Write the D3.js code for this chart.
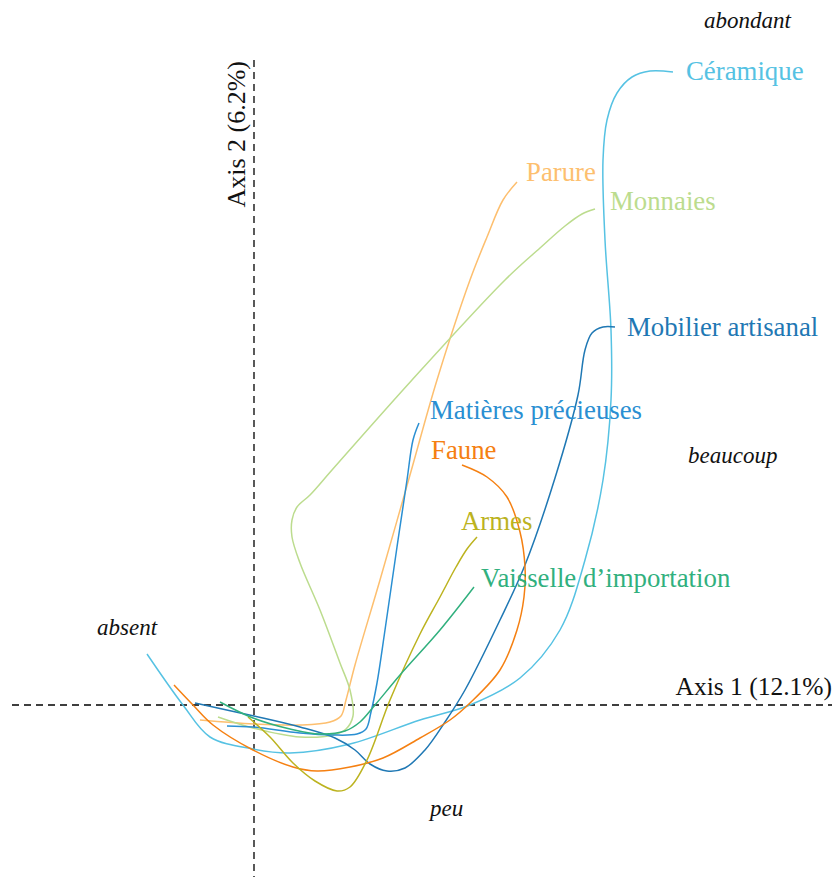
<!DOCTYPE html>
<html>
<head>
<meta charset="utf-8">
<script src="https://cdn.jsdelivr.net/npm/d3@7/dist/d3.min.js"></script>
<style>
  html, body { margin: 0; padding: 0; background: #fff; }
  svg { display: block; }
</style>
</head>
<body>
<svg id="chart" width="840" height="877"></svg>
<script>
// ---- Data (MCA coordinates, axis units) ----
const variables = ["Céramique", "Parure", "Monnaies", "Mobilier artisanal",
  "Matières précieuses", "Faune", "Armes", "Vaisselle d’importation"];

const ceramique = [[-0.535,0.255],[-0.355,0],[-0.22,-0.16],[-0.005,-0.22],[0.18,-0.24],[0.48,-0.195],
  [0.83,-0.075],[1.08,0],[1.33,0.135],[1.53,0.375],[1.655,0.725],[1.745,1.125],[1.785,1.525],
  [1.785,1.875],[1.755,2.325],[1.745,2.725],[1.765,2.925],[1.815,3.06],[1.89,3.14],[1.98,3.17],[2.095,3.165]];
const parure = [[-0.27,-0.075],[0,-0.095],[0.23,-0.1],[0.38,-0.085],[0.435,-0.055],[0.46,0.025],
  [0.505,0.2],[0.63,0.625],[0.78,1.15],[0.915,1.625],[1.08,2.125],[1.165,2.34],[1.245,2.525],[1.315,2.615]];
const monnaies = [[-0.18,-0.06],[-0.005,-0.115],[0.23,-0.16],[0.395,-0.15],[0.46,-0.12],[0.495,-0.055],
  [0.48,0.075],[0.43,0.21],[0.33,0.475],[0.23,0.71],[0.19,0.84],[0.19,0.925],[0.215,0.99],[0.28,1.05],
  [0.39,1.175],[0.79,1.625],[1.255,2.125],[1.43,2.285],[1.555,2.395],[1.64,2.455],[1.705,2.48]];
const mobilier = [[-0.295,0.01],[0,-0.055],[0.23,-0.11],[0.405,-0.165],[0.505,-0.225],[0.58,-0.295],
  [0.665,-0.33],[0.755,-0.315],[0.855,-0.225],[0.955,-0.085],[1.055,0.075],[1.23,0.425],[1.355,0.7],
  [1.505,1.135],[1.62,1.55],[1.655,1.775],[1.69,1.86],[1.745,1.89],[1.805,1.89]];
const matieres = [[-0.135,-0.105],[-0.005,-0.11],[0.23,-0.14],[0.395,-0.15],[0.515,-0.145],[0.56,-0.12],
  [0.585,-0.035],[0.615,0.11],[0.655,0.375],[0.715,0.79],[0.765,1.125],[0.795,1.325],[0.825,1.41]];
const faune = [[-0.4,0.1],[-0.305,0],[-0.205,-0.1],[-0.005,-0.225],[0.195,-0.31],[0.315,-0.33],
  [0.48,-0.31],[0.645,-0.265],[0.83,-0.165],[0.98,-0.075],[1.08,0.01],[1.23,0.175],[1.315,0.375],
  [1.35,0.54],[1.355,0.69],[1.33,0.865],[1.265,1.04],[1.165,1.14],[1.04,1.2]];
const armes = [[-0.03,-0.06],[0.08,-0.16],[0.195,-0.29],[0.305,-0.38],[0.415,-0.43],[0.48,-0.41],
  [0.565,-0.275],[0.68,0.025],[0.83,0.355],[0.93,0.54],[1.01,0.69],[1.065,0.78],[1.115,0.84]];
const vaisselle = [[-0.17,0.015],[-0.005,-0.065],[0.18,-0.12],[0.33,-0.145],[0.455,-0.13],[0.53,-0.085],
  [0.605,0],[0.73,0.15],[0.93,0.375],[1.1,0.59]];

const curves = [ceramique, parure, monnaies, mobilier, matieres, faune, armes, vaisselle];
const labelPos = [[2.16,3.17],[1.36,2.665],[1.78,2.52],[1.865,1.89],[0.88,1.475],[0.885,1.275],[1.035,0.92],[1.135,0.635]];
const colors = ["#56c2e3","#fdbf6f","#bcdc8e","#1f78b4","#2a8fd2","#f58012","#bcb31f","#31b07e"];

const levels = ["absent", "peu", "beaucoup", "abondant"];
const levelPos = [[-0.785,0.35],[0.88,-0.555],[2.17,1.21],[2.25,3.385]];

const axisTitles = ["Axis 1 (12.1%)", "Axis 2 (6.2%)"];

// ---- Scales ----
const x = d3.scaleLinear().domain([-1.21, 2.89]).range([12, 832]);
const y = d3.scaleLinear().domain([-0.86, 3.225]).range([877, 60]);

const FONT = "'Liberation Serif', 'Times New Roman', 'DejaVu Serif', serif";

const svg = d3.select("#chart").attr("font-family", FONT);
svg.append("rect").attr("width", 840).attr("height", 877).attr("fill", "#fff");

// axes (dashed)
svg.append("line")
  .attr("x1", x(-1.21)).attr("x2", x(2.89)).attr("y1", y(0)).attr("y2", y(0))
  .attr("stroke", "#000").attr("stroke-width", 1.3).attr("stroke-dasharray", "7,5");
svg.append("line")
  .attr("x1", x(0)).attr("x2", x(0)).attr("y1", y(3.225)).attr("y2", y(-0.86))
  .attr("stroke", "#000").attr("stroke-width", 1.3).attr("stroke-dasharray", "7,5");

// axis titles
svg.append("text")
  .attr("x", x(2.89)).attr("y", y(0) - 10)
  .attr("text-anchor", "end").attr("font-size", 25.5).attr("fill", "#111")
  .attr("font-family", FONT)
  .text(axisTitles[0]);
svg.append("text")
  .attr("transform", `translate(${x(0) - 9},${y(3.225) + 1}) rotate(-90)`)
  .attr("text-anchor", "end").attr("font-size", 26).attr("fill", "#111")
  .attr("font-family", FONT)
  .text(axisTitles[1]);

// curves
const line = d3.line()
  .x(d => x(d[0])).y(d => y(d[1]))
  .curve(d3.curveCatmullRom.alpha(0.5));

svg.append("g").selectAll("path")
  .data(curves)
  .join("path")
  .attr("d", line)
  .attr("fill", "none")
  .attr("stroke", (d, i) => colors[i])
  .attr("stroke-width", 1.5);

// variable labels
svg.append("g").selectAll("text")
  .data(variables)
  .join("text")
  .attr("x", (d, i) => x(labelPos[i][0]))
  .attr("y", (d, i) => y(labelPos[i][1]))
  .attr("dy", "0.35em")
  .attr("font-family", FONT)
  .attr("font-size", 26.8)
  .attr("fill", (d, i) => colors[i])
  .text(d => d);

// level annotations
svg.append("g").selectAll("text")
  .data(levels)
  .join("text")
  .attr("x", (d, i) => x(levelPos[i][0]))
  .attr("y", (d, i) => y(levelPos[i][1]))
  .attr("font-family", FONT)
  .attr("font-size", 23)
  .attr("font-style", "italic")
  .attr("fill", "#111")
  .text(d => d);
</script>
</body>
</html>
